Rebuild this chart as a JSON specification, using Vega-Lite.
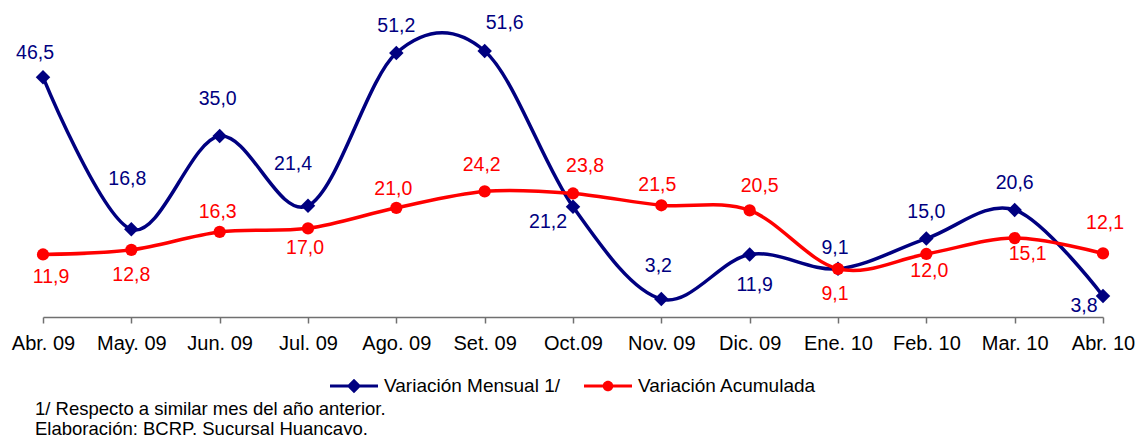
{
  "$schema": "https://vega.github.io/schema/vega-lite/v6.json",
  "width": 1060,
  "height": 307,
  "autosize": {"type": "none"},
  "padding": {"left": 43, "right": 35, "top": 10, "bottom": 118},
  "background": "white",
  "config": {
    "view": {"stroke": null},
    "locale": {"number": {"decimal": ",", "thousands": ".", "grouping": [3], "currency": ["", ""]}},
    "text": {"font": "Liberation Sans", "fontSize": 19.5, "baseline": "middle", "align": "center"},
    "legend": {"labelFont": "Liberation Sans", "labelFontSize": 19, "labelColor": "#000000", "labelLimit": 0, "layout": {"bottom": {"anchor": "middle"}}}
  },
  "title": {
    "text": ["1/ Respecto a similar mes del año anterior.", "Elaboración: BCRP, Sucursal Huancayo."],
    "orient": "bottom",
    "anchor": "start",
    "frame": "group",
    "dx": -8,
    "offset": 4,
    "font": "Liberation Sans",
    "fontSize": 18.5,
    "fontWeight": "normal",
    "color": "#000000",
    "lineHeight": 20
  },
  "data": {
    "values": [
      {"mes": "Abr. 09", "serie": "Variación Mensual 1/", "valor": 46.5},
      {"mes": "May. 09", "serie": "Variación Mensual 1/", "valor": 16.8},
      {"mes": "Jun. 09", "serie": "Variación Mensual 1/", "valor": 35.0},
      {"mes": "Jul. 09", "serie": "Variación Mensual 1/", "valor": 21.4},
      {"mes": "Ago. 09", "serie": "Variación Mensual 1/", "valor": 51.2},
      {"mes": "Set. 09", "serie": "Variación Mensual 1/", "valor": 51.6},
      {"mes": "Oct.09", "serie": "Variación Mensual 1/", "valor": 21.2},
      {"mes": "Nov. 09", "serie": "Variación Mensual 1/", "valor": 3.2},
      {"mes": "Dic. 09", "serie": "Variación Mensual 1/", "valor": 11.9},
      {"mes": "Ene. 10", "serie": "Variación Mensual 1/", "valor": 9.1},
      {"mes": "Feb. 10", "serie": "Variación Mensual 1/", "valor": 15.0},
      {"mes": "Mar. 10", "serie": "Variación Mensual 1/", "valor": 20.6},
      {"mes": "Abr. 10", "serie": "Variación Mensual 1/", "valor": 3.8},
      {"mes": "Abr. 09", "serie": "Variación Acumulada", "valor": 11.9},
      {"mes": "May. 09", "serie": "Variación Acumulada", "valor": 12.8},
      {"mes": "Jun. 09", "serie": "Variación Acumulada", "valor": 16.3},
      {"mes": "Jul. 09", "serie": "Variación Acumulada", "valor": 17.0},
      {"mes": "Ago. 09", "serie": "Variación Acumulada", "valor": 21.0},
      {"mes": "Set. 09", "serie": "Variación Acumulada", "valor": 24.2},
      {"mes": "Oct.09", "serie": "Variación Acumulada", "valor": 23.8},
      {"mes": "Nov. 09", "serie": "Variación Acumulada", "valor": 21.5},
      {"mes": "Dic. 09", "serie": "Variación Acumulada", "valor": 20.5},
      {"mes": "Ene. 10", "serie": "Variación Acumulada", "valor": 9.1},
      {"mes": "Feb. 10", "serie": "Variación Acumulada", "valor": 12.0},
      {"mes": "Mar. 10", "serie": "Variación Acumulada", "valor": 15.1},
      {"mes": "Abr. 10", "serie": "Variación Acumulada", "valor": 12.1}
    ]
  },
  "encoding": {
    "x": {
      "field": "mes", "type": "ordinal", "sort": null,
      "scale": {"type": "point", "padding": 0},
      "axis": {
        "title": null, "labelAngle": 0, "labelFont": "Liberation Sans", "labelFontSize": 20,
        "labelColor": "#000000", "labelPadding": 10, "domainColor": "#707070", "domainWidth": 1.5,
        "tickColor": "#707070", "tickWidth": 1.5, "tickSize": 6, "grid": false
      }
    },
    "y": {
      "field": "valor", "type": "quantitative",
      "scale": {"domain": [-0.3, 59.6], "nice": false, "zero": false},
      "axis": null
    },
    "text": {"field": "valor", "type": "quantitative", "format": ".1f"}
  },
  "layer": [
    {
      "transform": [{"filter": "datum.serie == 'Variación Mensual 1/'"}],
      "mark": {"type": "line", "interpolate": "cardinal", "color": "#000080", "strokeWidth": 3.5},
      "encoding": {"text": null}
    },
    {
      "transform": [{"filter": "datum.serie == 'Variación Mensual 1/'"}],
      "mark": {"type": "point", "shape": "diamond", "filled": true, "opacity": 1, "color": "#000080", "size": 210},
      "encoding": {"text": null}
    },
    {
      "transform": [{"filter": "datum.serie == 'Variación Acumulada'"}],
      "mark": {"type": "line", "interpolate": "cardinal", "color": "#FF0000", "strokeWidth": 3.5},
      "encoding": {"text": null}
    },
    {
      "transform": [{"filter": "datum.serie == 'Variación Acumulada'"}],
      "mark": {"type": "point", "shape": "circle", "filled": true, "opacity": 1, "color": "#FF0000", "size": 150},
      "encoding": {"text": null}
    },
    {
      "transform": [{"filter": "false"}],
      "mark": {"type": "point", "filled": true, "opacity": 1},
      "encoding": {
        "text": null,
        "color": {
          "field": "serie", "type": "nominal",
          "scale": {"domain": ["Variación Mensual 1/", "Variación Acumulada"], "range": ["#000080", "#FF0000"]},
          "legend": {"title": null, "orient": "bottom", "direction": "horizontal", "symbolSize": 2304, "columnPadding": 22, "labelOffset": 5, "offset": 8, "labelLimit": 0}
        },
        "shape": {
          "field": "serie", "type": "nominal",
          "scale": {
            "domain": ["Variación Mensual 1/", "Variación Acumulada"],
            "range": [
              "M-1,-0.06L1,-0.06L1,0.06L-1,0.06Z M0,-0.3L0.3,0L0,0.3L-0.3,0Z",
              "M-1,-0.06L1,-0.06L1,0.06L-1,0.06Z M0.22,0A0.22,0.22 0 1,1 -0.22,0A0.22,0.22 0 1,1 0.22,0Z"
            ]
          },
          "legend": {"title": null, "orient": "bottom", "direction": "horizontal", "symbolSize": 2304, "columnPadding": 22, "labelOffset": 5, "offset": 8, "labelLimit": 0}
        }
      }
    },
    {"transform": [{"filter": "datum.serie == 'Variación Mensual 1/' && datum.mes == 'Abr. 09'"}], "mark": {"type": "text", "color": "#000080", "dx": -8, "dy": -24}},
    {"transform": [{"filter": "datum.serie == 'Variación Mensual 1/' && datum.mes == 'May. 09'"}], "mark": {"type": "text", "color": "#000080", "dx": -4, "dy": -50}},
    {"transform": [{"filter": "datum.serie == 'Variación Mensual 1/' && datum.mes == 'Jun. 09'"}], "mark": {"type": "text", "color": "#000080", "dx": -2, "dy": -37}},
    {"transform": [{"filter": "datum.serie == 'Variación Mensual 1/' && datum.mes == 'Jul. 09'"}], "mark": {"type": "text", "color": "#000080", "dx": -15, "dy": -42}},
    {"transform": [{"filter": "datum.serie == 'Variación Mensual 1/' && indexof(['Ago. 09', 'Feb. 10', 'Mar. 10'], datum.mes) >= 0"}], "mark": {"type": "text", "color": "#000080", "dx": 0, "dy": -27}},
    {"transform": [{"filter": "datum.serie == 'Variación Mensual 1/' && datum.mes == 'Set. 09'"}], "mark": {"type": "text", "color": "#000080", "dx": 20, "dy": -28}},
    {"transform": [{"filter": "datum.serie == 'Variación Mensual 1/' && datum.mes == 'Oct.09'"}], "mark": {"type": "text", "color": "#000080", "dx": -25, "dy": 15}},
    {"transform": [{"filter": "datum.serie == 'Variación Mensual 1/' && datum.mes == 'Nov. 09'"}], "mark": {"type": "text", "color": "#000080", "dx": -3, "dy": -33}},
    {"transform": [{"filter": "datum.serie == 'Variación Mensual 1/' && datum.mes == 'Dic. 09'"}], "mark": {"type": "text", "color": "#000080", "dx": 5, "dy": 31}},
    {"transform": [{"filter": "datum.serie == 'Variación Mensual 1/' && datum.mes == 'Ene. 10'"}], "mark": {"type": "text", "color": "#000080", "dx": -3, "dy": -21}},
    {"transform": [{"filter": "datum.serie == 'Variación Mensual 1/' && datum.mes == 'Abr. 10'"}], "mark": {"type": "text", "color": "#000080", "dx": -19, "dy": 10}},
    {"transform": [{"filter": "datum.serie == 'Variación Acumulada' && datum.mes == 'Abr. 09'"}], "mark": {"type": "text", "color": "#FF0000", "dx": 8, "dy": 23}},
    {"transform": [{"filter": "datum.serie == 'Variación Acumulada' && datum.mes == 'May. 09'"}], "mark": {"type": "text", "color": "#FF0000", "dx": 0, "dy": 25}},
    {"transform": [{"filter": "datum.serie == 'Variación Acumulada' && datum.mes == 'Jun. 09'"}], "mark": {"type": "text", "color": "#FF0000", "dx": -2, "dy": -20}},
    {"transform": [{"filter": "datum.serie == 'Variación Acumulada' && datum.mes == 'Jul. 09'"}], "mark": {"type": "text", "color": "#FF0000", "dx": -3, "dy": 20}},
    {"transform": [{"filter": "datum.serie == 'Variación Acumulada' && datum.mes == 'Ago. 09'"}], "mark": {"type": "text", "color": "#FF0000", "dx": -3, "dy": -19}},
    {"transform": [{"filter": "datum.serie == 'Variación Acumulada' && datum.mes == 'Set. 09'"}], "mark": {"type": "text", "color": "#FF0000", "dx": -3, "dy": -26}},
    {"transform": [{"filter": "datum.serie == 'Variación Acumulada' && datum.mes == 'Oct.09'"}], "mark": {"type": "text", "color": "#FF0000", "dx": 12, "dy": -27}},
    {"transform": [{"filter": "datum.serie == 'Variación Acumulada' && datum.mes == 'Nov. 09'"}], "mark": {"type": "text", "color": "#FF0000", "dx": -4, "dy": -20}},
    {"transform": [{"filter": "datum.serie == 'Variación Acumulada' && datum.mes == 'Dic. 09'"}], "mark": {"type": "text", "color": "#FF0000", "dx": 10, "dy": -24}},
    {"transform": [{"filter": "datum.serie == 'Variación Acumulada' && datum.mes == 'Ene. 10'"}], "mark": {"type": "text", "color": "#FF0000", "dx": -3, "dy": 25}},
    {"transform": [{"filter": "datum.serie == 'Variación Acumulada' && datum.mes == 'Feb. 10'"}], "mark": {"type": "text", "color": "#FF0000", "dx": 3, "dy": 17}},
    {"transform": [{"filter": "datum.serie == 'Variación Acumulada' && datum.mes == 'Mar. 10'"}], "mark": {"type": "text", "color": "#FF0000", "dx": 13, "dy": 16}},
    {"transform": [{"filter": "datum.serie == 'Variación Acumulada' && datum.mes == 'Abr. 10'"}], "mark": {"type": "text", "color": "#FF0000", "dx": 2, "dy": -30}}
  ]
}
